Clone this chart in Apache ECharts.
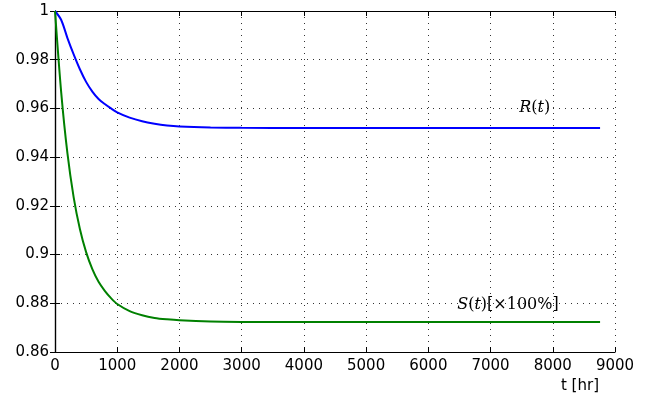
<!DOCTYPE html>
<html>
<head>
<meta charset="utf-8">
<script src="https://cdn.jsdelivr.net/npm/echarts@6/dist/echarts.min.js"></script>
<style>html,body{margin:0;padding:0;background:#fff;}#c{width:655px;height:404px;}</style>
</head>
<body>
<div id="c"></div>
<script>
// t [hr]
var tVals = [0, 100, 200, 300, 400, 500, 600, 700, 800, 900, 1000, 1200, 1400, 1600, 1800, 2000, 2500, 3000, 4000, 5000, 6000, 7000, 8000, 8760];
var rVals = [1, 0.9963, 0.9889, 0.9822, 0.9761, 0.9709, 0.9669, 0.9639, 0.9618, 0.96, 0.9584, 0.9562, 0.9547, 0.9537, 0.953, 0.9526, 0.9522, 0.95205, 0.952, 0.952, 0.952, 0.952, 0.952, 0.952];
var sVals = [1, 0.9665, 0.9415, 0.9235, 0.9105, 0.901, 0.894, 0.8888, 0.8851, 0.8821, 0.8797, 0.8768, 0.8751, 0.874, 0.8734, 0.873, 0.8725, 0.87235, 0.8723, 0.8723, 0.8723, 0.8723, 0.8723, 0.8723];
var xTicks = {min: 0, max: 9000, interval: 1000};
var yTicks = {min: 0.86, max: 1, interval: 0.02};
var labelR = {t: 7710, v: 0.9601};
var labelS = {t: 7280, v: 0.8792};

function pairs(t, v) { return t.map(function (x, i) { return [x, v[i]]; }); }

var serifRich = {
  i: {fontFamily: 'DejaVu Serif', fontStyle: 'italic', fontSize: 16, color: '#000'},
  n: {fontFamily: 'DejaVu Serif', fontSize: 16, color: '#000'}
};

var tickFont = {color: '#000', fontSize: 15, fontFamily: 'DejaVu Sans'};
var gridLine = {show: true, lineStyle: {color: '#333', type: [1, 5], width: 1}};
var chart = echarts.init(document.getElementById('c'), null, {renderer: 'canvas'});
var tickStyle = {color: '#000', width: 1};
chart.setOption({
  animation: false,
  backgroundColor: '#fff',
  grid: {left: 55, top: 11, right: 40, bottom: 52},
  xAxis: [{
    type: 'value', min: xTicks.min, max: xTicks.max, interval: xTicks.interval,
    axisLine: {show: true, lineStyle: {color: '#000', width: 1.2}},
    axisTick: {show: true, inside: true, length: 5, lineStyle: tickStyle},
    axisLabel: Object.assign({margin: 7, formatter: function (v) { return String(v); }}, tickFont),
    splitLine: gridLine,
    name: 't [hr]', nameLocation: 'end', nameGap: -16,
    nameTextStyle: Object.assign({align: 'right', verticalAlign: 'top', padding: [27, 0, 0, 0]}, tickFont)
  }, {
    type: 'value', position: 'top', min: xTicks.min, max: xTicks.max, interval: xTicks.interval,
    axisLine: {show: true, lineStyle: {color: '#000', width: 1.2}},
    axisTick: {show: true, inside: true, length: 5, lineStyle: tickStyle},
    axisLabel: {show: false}, splitLine: {show: false}
  }],
  yAxis: [{
    type: 'value', min: yTicks.min, max: yTicks.max, interval: yTicks.interval,
    axisLine: {show: true, lineStyle: {color: '#000', width: 1.2}},
    axisTick: {show: true, inside: true, length: 5, lineStyle: tickStyle},
    axisLabel: Object.assign({margin: 6,
      formatter: function (v) { return String(parseFloat(v.toFixed(2))); }}, tickFont),
    splitLine: gridLine
  }, {
    type: 'value', position: 'right', min: yTicks.min, max: yTicks.max, interval: yTicks.interval,
    axisLine: {show: true, lineStyle: {color: '#000', width: 1.2}},
    axisTick: {show: true, inside: true, length: 5, lineStyle: tickStyle},
    axisLabel: {show: false}, splitLine: {show: false}
  }],
  series: [{
    type: 'line', name: 'R(t)', data: pairs(tVals, rVals), smooth: 0.3, showSymbol: false,
    lineStyle: {color: '#0000ff', width: 2}, itemStyle: {color: '#0000ff'},
    markPoint: {symbol: 'circle', symbolSize: 0, silent: true,
      data: [{coord: [labelR.t, labelR.v]}],
      label: {show: true, position: 'inside', formatter: '{i|R}{n|(}{i|t}{n|)}', rich: serifRich}}
  }, {
    type: 'line', name: 'S(t)', data: pairs(tVals, sVals), smooth: 0.3, showSymbol: false,
    lineStyle: {color: '#008000', width: 2}, itemStyle: {color: '#008000'},
    markPoint: {symbol: 'circle', symbolSize: 0, silent: true,
      data: [{coord: [labelS.t, labelS.v]}],
      label: {show: true, position: 'inside', formatter: '{i|S}{n|(}{i|t}{n|)[×100%]}', rich: serifRich}}
  }]
});
</script>
</body>
</html>
